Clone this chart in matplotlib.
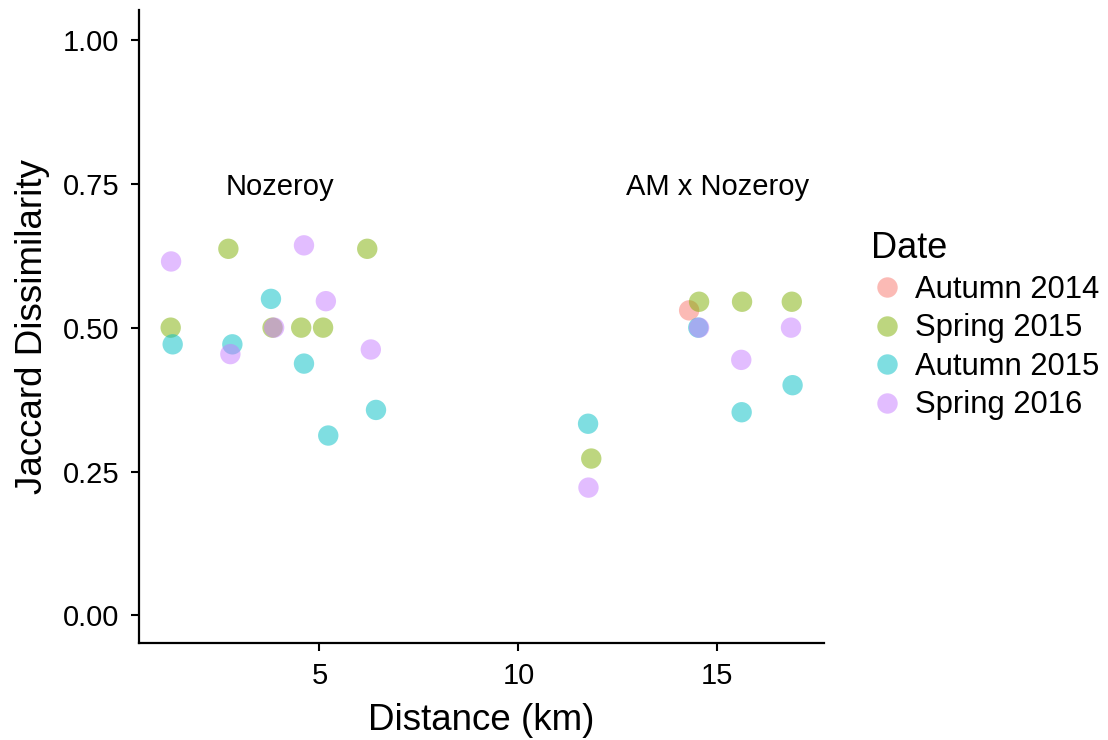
import numpy as np
import matplotlib
matplotlib.use('Agg')
from matplotlib import pyplot as plt
from matplotlib.lines import Line2D

plt.rcParams['font.family'] = ['Liberation Sans', 'DejaVu Sans']

# Data (distance in km, Jaccard dissimilarity)
dates = ['Autumn 2014', 'Spring 2015', 'Autumn 2015', 'Spring 2016']
colors = ['#F8766D', '#7CAE00', '#00BFC4', '#C77CFF']

autumn14_x = [14.29]
autumn14_y = [0.530]

spring15_x = [2.71, 6.20, 1.26, 3.82, 4.54, 5.09, 14.54, 15.62, 16.87, 11.83]
spring15_y = [0.637, 0.637, 0.500, 0.500, 0.500, 0.500, 0.545, 0.545, 0.545, 0.2725]

autumn15_x = [3.78, 1.31, 2.81, 4.61, 6.42, 5.22, 14.52, 16.89, 15.61, 11.75]
autumn15_y = [0.550, 0.471, 0.471, 0.4375, 0.357, 0.3125, 0.500, 0.400, 0.353, 0.333]

spring16_x = [1.27, 4.61, 5.16, 3.86, 2.76, 6.29, 14.54, 16.85, 15.60, 11.76]
spring16_y = [0.615, 0.643, 0.546, 0.500, 0.454, 0.462, 0.500, 0.500, 0.444, 0.222]

series_x = [autumn14_x, spring15_x, autumn15_x, spring16_x]
series_y = [autumn14_y, spring15_y, autumn15_y, spring16_y]

site_labels = ['Nozeroy', 'AM x Nozeroy']
site_label_x = [4, 15]
site_label_y = [0.745, 0.745]

fig = plt.figure(figsize=(11.08, 7.40), dpi=100)
ax = fig.add_axes([0.1255, 0.1311, 0.7437 - 0.1255, 0.9865 - 0.1311])

for xs, ys, c in zip(series_x, series_y, colors):
    ax.scatter(xs, ys, s=215, color=c, alpha=0.5, edgecolors='none', zorder=3)

for lab, lx, ly in zip(site_labels, site_label_x, site_label_y):
    ax.text(lx, ly, lab, ha='center', va='center', fontsize=21)

ax.set_xlim(0.465, 17.68)
ax.set_ylim(-0.048, 1.052)
ax.set_xticks([5, 10, 15])
ax.set_yticks([0, 0.25, 0.5, 0.75, 1.0])
ax.set_yticklabels(['0.00', '0.25', '0.50', '0.75', '1.00'])
ax.tick_params(labelsize=21, length=6, width=1.5, colors='black')
ax.tick_params(axis='y', pad=8)
ax.tick_params(axis='x', pad=8)
for side in ['top', 'right']:
    ax.spines[side].set_visible(False)
for side in ['left', 'bottom']:
    ax.spines[side].set_linewidth(1.6)

ax.set_xlabel('Distance (km)', fontsize=26.5, labelpad=9)
ax.set_ylabel('Jaccard Dissimilarity', fontsize=26.5, labelpad=9)

handles = [Line2D([], [], marker='o', linestyle='none', markersize=14.7,
                  markerfacecolor=c, markeredgecolor='none', alpha=0.5) for c in colors]
fig.legend(handles, dates, loc='upper left', bbox_to_anchor=(0.7753, 0.704),
           frameon=False, title='Date', fontsize=22.3, title_fontsize=26,
           handlelength=1.0, handletextpad=0.41, labelspacing=0.275,
           borderaxespad=0, alignment='left')

fig.savefig('out.png', dpi=100)
